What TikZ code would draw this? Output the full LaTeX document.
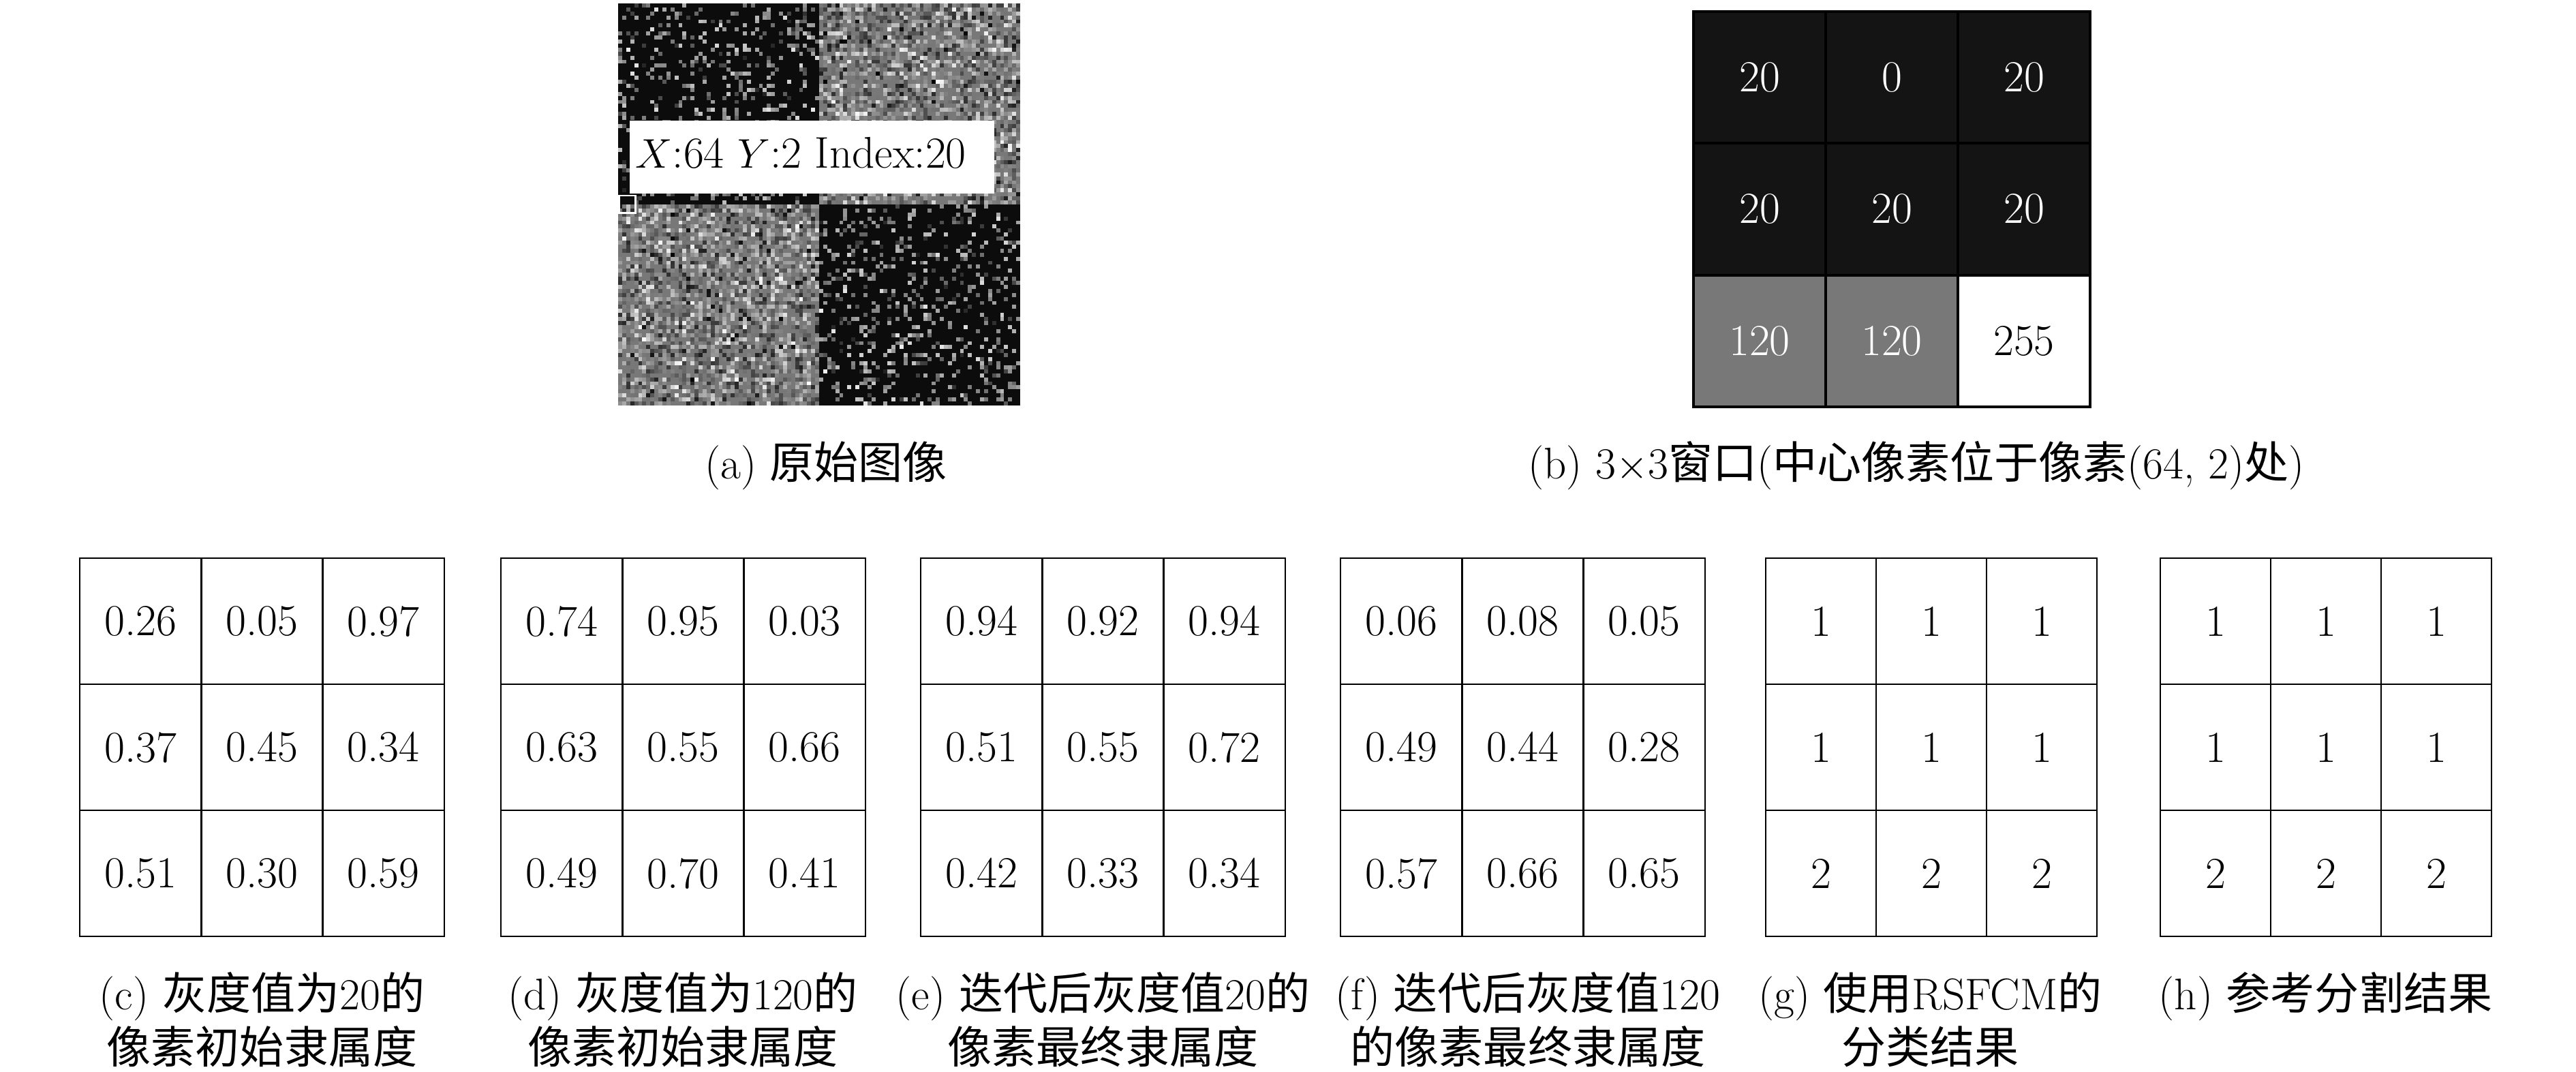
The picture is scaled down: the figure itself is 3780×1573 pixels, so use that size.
\documentclass[tikz,border=0pt]{standalone}
\usepackage{fontspec}
\newfontfamily\cjk{Noto Sans CJK SC}
\definecolor{gA}{RGB}{20,20,20}
\definecolor{gB}{RGB}{120,120,120}
\definecolor{gI}{RGB}{12,12,12}
\newcommand\mgrid[5]{%
  \foreach \v [count=\k from 0] in {#5}{%
    \pgfmathtruncatemacro\rr{floor(\k/3)}%
    \pgfmathtruncatemacro\cc{\k-3*\rr}%
    \node[#4] (#1-\rr-\cc) at ({#2+(\cc+0.5)*#3},{819+(\rr+0.5)*185}) {\v};
  }}
\begin{document}
\begin{tikzpicture}[x=0.01cm, y=-0.01cm,
  every node/.style={font=\fontsize{18.5pt}{22pt}\selectfont},
  gcell/.style={draw, line width=0.7pt, inner sep=0pt, minimum height=1.85cm},
  cellA/.style={gcell, minimum width=1.783cm},
  cellB/.style={gcell, minimum width=1.62cm},
  bcell/.style={draw, line width=1.1pt, inner sep=0pt, minimum width=1.94cm, minimum height=1.933cm},
  dk/.style={bcell, fill=gA, text=white},
  md/.style={bcell, fill=gB, text=white},
  lt/.style={bcell, fill=white, text=black},
  capt/.style={anchor=base, inner sep=0pt}]
\useasboundingbox (0,0) rectangle (3780,1573);

% (a) noisy image
\pgfmathsetseed{7}
\fill[gI] (907,5) rectangle (1202,300);
\fill[gI] (1202,300) rectangle (1497,595);
\fill[gB] (1202,5) rectangle (1497,300);
\fill[gB] (907,300) rectangle (1202,595);
\foreach \i in {0,...,99}{%
  \foreach \j in {0,...,99}{%
    \pgfmathrandominteger{\rn}{0}{99}%
    \ifnum\i<50 \ifnum\j<50 \def\qq{0}\else\def\qq{1}\fi\else\ifnum\j<50 \def\qq{1}\else\def\qq{0}\fi\fi
    \ifnum\qq=0
      \ifnum\rn<20 \pgfmathrandominteger{\ga}{10}{90}\pgfmathrandominteger{\gb}{10}{100}%
        \pgfmathtruncatemacro\gv{(\ga+\gb)/2}%
        \fill[white!\gv!black] ({907+\i*5.9},{5+\j*5.9}) rectangle +(5.9,5.9);\fi
    \else
      \ifnum\rn<70 \pgfmathrandominteger{\ga}{0}{100}\pgfmathrandominteger{\gb}{0}{100}%
        \pgfmathtruncatemacro\gv{(\ga+\gb)/2}%
        \fill[white!\gv!black] ({907+\i*5.9},{5+\j*5.9}) rectangle +(5.9,5.9);\fi
    \fi
  }}
\fill[white] (924,177) rectangle (1459,284);
\node[anchor=base west, inner sep=0pt] (tip) at (932,247) {$X$:64 $Y$:2 Index:20};
\draw[white, line width=0.85pt] (908.5,287) rectangle (932.5,312.5);
\node[capt] (capa) at (1212,703) {(a) {\cjk 原始图像}};

% (b) 3x3 window
\node[dk] (b-0-0) at (2582,113.7) {20};
\node[dk] (b-0-1) at (2776,113.7) {0};
\node[dk] (b-0-2) at (2970,113.7) {20};
\node[dk] (b-1-0) at (2582,307) {20};
\node[dk] (b-1-1) at (2776,307) {20};
\node[dk] (b-1-2) at (2970,307) {20};
\node[md] (b-2-0) at (2582,500.3) {120};
\node[md] (b-2-1) at (2776,500.3) {120};
\node[lt] (b-2-2) at (2970,500.3) {255};
\node[capt] (capb) at (2812,703) {(b) 3$\times$3{\cjk 窗口}({\cjk 中心像素位于像素}(64, 2){\cjk 处})};

% (c)-(h)
\mgrid{c}{117}{178.3}{cellA}{0.26,0.05,0.97,0.37,0.45,0.34,0.51,0.30,0.59}
\mgrid{d}{735}{178.3}{cellA}{0.74,0.95,0.03,0.63,0.55,0.66,0.49,0.70,0.41}
\mgrid{e}{1351}{178.3}{cellA}{0.94,0.92,0.94,0.51,0.55,0.72,0.42,0.33,0.34}
\mgrid{f}{1967}{178.3}{cellA}{0.06,0.08,0.05,0.49,0.44,0.28,0.57,0.66,0.65}
\mgrid{g}{2591}{162}{cellB}{1,1,1,1,1,1,2,2,2}
\mgrid{h}{3170}{162}{cellB}{1,1,1,1,1,1,2,2,2}

\node[capt] (capc1) at (384.5,1481) {(c) {\cjk 灰度值为}20{\cjk 的}};
\node[capt] (capc2) at (384.5,1560) {\cjk 像素初始隶属度};
\node[capt] (capd1) at (1002,1481) {(d) {\cjk 灰度值为}120{\cjk 的}};
\node[capt] (capd2) at (1002,1560) {\cjk 像素初始隶属度};
\node[capt] (cape1) at (1618.5,1481) {(e) {\cjk 迭代后灰度值}20{\cjk 的}};
\node[capt] (cape2) at (1618.5,1560) {\cjk 像素最终隶属度};
\node[capt] (capf1) at (2242,1481) {(f) {\cjk 迭代后灰度值}120};
\node[capt] (capf2) at (2242,1560) {\cjk 的像素最终隶属度};
\node[capt] (capg1) at (2832.5,1481) {(g) {\cjk 使用}RSFCM{\cjk 的}};
\node[capt] (capg2) at (2832.5,1560) {\cjk 分类结果};
\node[capt] (caph1) at (3412.5,1481) {(h) {\cjk 参考分割结果}};
\end{tikzpicture}
\end{document}
